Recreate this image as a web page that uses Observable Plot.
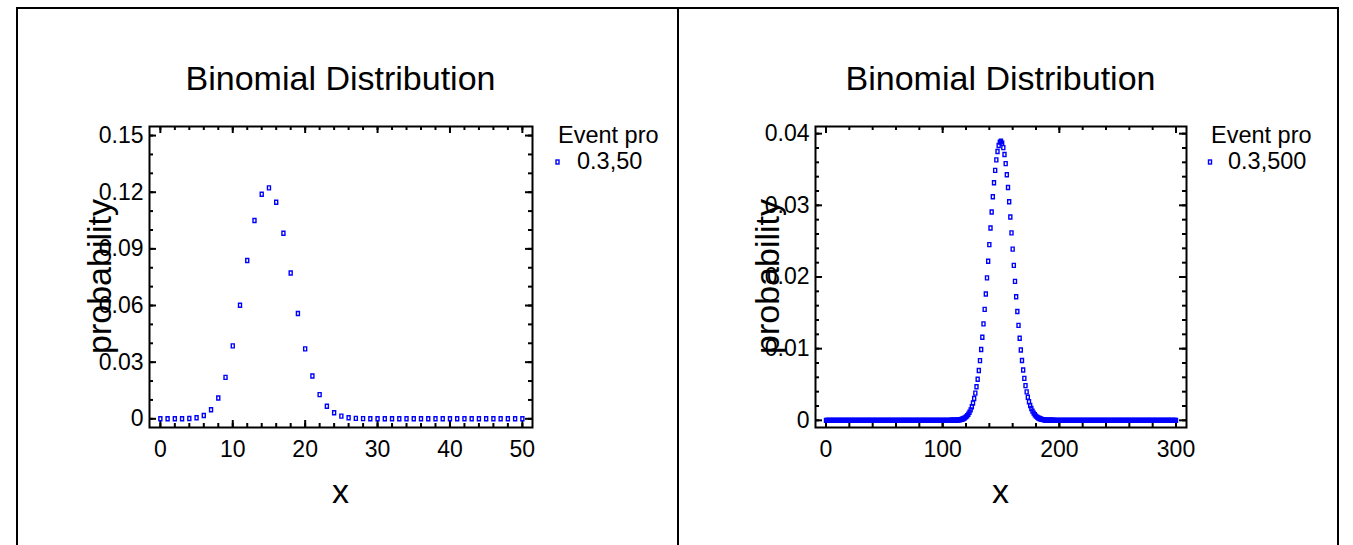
<!DOCTYPE html>
<html>
<head>
<meta charset="utf-8">
<script src="https://cdn.jsdelivr.net/npm/d3@7"></script>
<script src="https://cdn.jsdelivr.net/npm/@observablehq/plot@0.6"></script>
<style>
  html, body { margin: 0; padding: 0; background: #fff; }
  body { width: 1353px; height: 545px; overflow: hidden; position: relative; }
  .panel { position: absolute; top: 8px; }
  #overlay { position: absolute; left: 0; top: 0; pointer-events: none; }
</style>
</head>
<body>
<div id="left" class="panel" style="left:17px"></div>
<div id="right" class="panel" style="left:678px"></div>
<svg id="overlay" width="1353" height="545"></svg>
<script>
// ---------- data ----------
const leftX = d3.range(0, 51);              // x = 0..50
const leftProb = [
  0.00000002, 0.0000004, 0.000004, 0.0000277, 0.0001397, 0.000551, 0.00177, 0.00477, 0.01099, 0.02197,
  0.03861, 0.06017, 0.08381, 0.10499, 0.11892, 0.12232, 0.11467, 0.09829, 0.07723, 0.05574,
  0.03703, 0.02267, 0.01281, 0.00668, 0.00322, 0.00144, 0.00059, 0.000225, 0.000079, 0.000026,
  0.0000077, 0.0000019, 0.0000004, 0, 0, 0, 0, 0, 0, 0,
  0, 0, 0, 0, 0, 0, 0, 0, 0, 0,
  0
];
const rightX = d3.range(0, 301);            // x = 0..300
const rightProb = [
  0,0,0,0,0,0,0,0,0,0, 0,0,0,0,0,0,0,0,0,0, 0,0,0,0,0,0,0,0,0,0, 0,0,0,0,0,0,0,0,0,0,
  0,0,0,0,0,0,0,0,0,0, 0,0,0,0,0,0,0,0,0,0, 0,0,0,0,0,0,0,0,0,0, 0,0,0,0,0,0,0,0,0,0,
  0,0,0,0,0,0,0,0,0,0, 0,0,0,0,0,0,0,0,0,0, 0,0,0,0,0,0,0,
  0.0000036, 0.0000056, 0.0000087,                                        // 107-109
  0.0000133, 0.0000200, 0.0000298, 0.0000438, 0.0000637, 0.0000917, 0.000130, 0.000183, 0.000255, 0.000350, // 110-119
  0.000477, 0.000642, 0.000854, 0.001125, 0.001466, 0.001890, 0.002410, 0.003042, 0.003799, 0.004695,       // 120-129
  0.005742, 0.006950, 0.008327, 0.009874, 0.011590, 0.013466, 0.015489, 0.017637, 0.019883, 0.022192,       // 130-139
  0.024524, 0.026835, 0.029076, 0.031196, 0.033146, 0.034877, 0.036344, 0.037510, 0.038343, 0.038821,       // 140-149
  0.038932, 0.038674, 0.038056, 0.037097, 0.035824, 0.034272, 0.032483, 0.030503, 0.028379, 0.026161,       // 150-159
  0.023895, 0.021626, 0.019395, 0.017236, 0.015179, 0.013247, 0.011457, 0.009820, 0.008342, 0.007023,       // 160-169
  0.005860, 0.004847, 0.003973, 0.003228, 0.002600, 0.002076, 0.001643, 0.001289, 0.001002, 0.000773,       // 170-179
  0.000591, 0.000448, 0.000336, 0.000250, 0.000185, 0.000135, 0.0000982, 0.0000707, 0.0000504, 0.0000357,  // 180-189
  0.0000250, 0.0000174, 0.0000120, 0.0000083, 0.0000056, 0.0000038,                                         // 190-195
  0,0,0,0,0,0,0,0,0,0, 0,0,0,0,0,0,0,0,0,0, 0,0,0,0,0,0,0,0,0,0, 0,0,0,0,0,0,0,0,0,0,
  0,0,0,0,0,0,0,0,0,0, 0,0,0,0,0,0,0,0,0,0, 0,0,0,0,0,0,0,0,0,0, 0,0,0,0,0,0,0,0,0,0,
  0,0,0,0,0,0,0,0,0,0, 0,0,0,0,0,0,0,0,0,0, 0,0,0,0,0
];
const leftXTicks = [0, 10, 20, 30, 40, 50];
const leftYTicks = [0, 0.03, 0.06, 0.09, 0.12, 0.15];
const rightXTicks = [0, 100, 200, 300];
const rightYTicks = [0, 0.01, 0.02, 0.03, 0.04];
const leftXMinor = d3.range(0, 51, 2);
const leftYMinor = d3.range(0, 16).map(i => i / 100);
const rightXMinor = d3.range(0, 301, 20);
const rightYMinor = d3.range(0, 21).map(i => i / 500);
const chartTitle = "Binomial Distribution";
const xLabel = "x";
const yLabel = "probability";
const legendTitle = "Event pro";
const legendLabels = ["0.3,50", "0.3,500"];

// ---------- styling ----------
const FONT = "'Liberation Sans', Arial, Helvetica, sans-serif";
const BLUE = "#0000ff";
const MAJ = 7, MIN = 4;
const rectSymbol = {
  draw(ctx) {
    ctx.moveTo(-1.5, -2); ctx.lineTo(1.5, -2); ctx.lineTo(1.5, 2); ctx.lineTo(-1.5, 2); ctx.closePath();
  }
};

function panel(o) {
  const data = o.xs.map((x, i) => ({x, p: o.ys[i]}));
  const fw = o.width - o.ml - o.mr, fh = o.height - o.mt - o.mb;
  const tick = {stroke: "#000", strokeWidth: 2};
  return Plot.plot({
    width: o.width, height: o.height,
    marginLeft: o.ml, marginRight: o.mr, marginTop: o.mt, marginBottom: o.mb,
    x: {domain: o.xDomain},
    y: {domain: o.yDomain},
    style: {fontFamily: FONT, fontSize: "23px", background: "transparent", color: "#000", overflow: "visible"},
    marks: [
      Plot.ruleX(o.xMinor, {...tick, insetTop: fh - MIN}),
      Plot.ruleX(o.xMinor, {...tick, insetBottom: fh - MIN}),
      Plot.ruleX(o.xMajor, {...tick, insetTop: fh - MAJ}),
      Plot.ruleX(o.xMajor, {...tick, insetBottom: fh - MAJ}),
      Plot.ruleY(o.yMinor, {...tick, insetRight: fw - MIN}),
      Plot.ruleY(o.yMinor, {...tick, insetLeft: fw - MIN}),
      Plot.ruleY(o.yMajor, {...tick, insetRight: fw - MAJ}),
      Plot.ruleY(o.yMajor, {...tick, insetLeft: fw - MAJ}),
      Plot.axisX(o.xMajor, {tickSize: 0, tickPadding: 13, fontSize: 23, label: null, tickFormat: d => String(d)}),
      Plot.axisY(o.yMajor, {tickSize: 0, tickPadding: 6, fontSize: 23, label: null, tickFormat: d => String(d)}),
      Plot.dot(data, {x: "x", y: "p", symbol: rectSymbol, stroke: BLUE, strokeWidth: 1.4, fill: "none"}),
      Plot.frame({stroke: "#000", strokeWidth: 2})
    ]
  });
}

document.getElementById("left").append(panel({
  width: 661, height: 537, ml: 132, mr: 146, mt: 118, mb: 118,
  xDomain: [-1.5, 51.4], yDomain: [-0.0046, 0.1548],
  xs: leftX, ys: leftProb, xMajor: leftXTicks, xMinor: leftXMinor, yMajor: leftYTicks, yMinor: leftYMinor
}));
document.getElementById("right").append(panel({
  width: 660, height: 537, ml: 137, mr: 152, mt: 118, mb: 118,
  xDomain: [-9, 309], yDomain: [-0.001, 0.041],
  xs: rightX, ys: rightProb, xMajor: rightXTicks, xMinor: rightXMinor, yMajor: rightYTicks, yMinor: rightYMinor
}));

// ---------- overlay: borders, titles, labels, legends ----------
const ov = d3.select("#overlay").attr("font-family", FONT);
ov.append("path")
  .attr("d", "M17,560 V8 H1338 V560 M678,8 V560")
  .attr("fill", "none").attr("stroke", "#000").attr("stroke-width", 2);

const panels = [
  {cx: 340.5, yl: 111, legX: 558, legTxt: 577, legMark: 557.5, label: legendLabels[0]},
  {cx: 1000.5, yl: 779, legX: 1211, legTxt: 1228, legMark: 1210, label: legendLabels[1]}
];
for (const p of panels) {
  ov.append("text").attr("x", p.cx).attr("y", 90).attr("text-anchor", "middle")
    .attr("font-size", 34).text(chartTitle);
  ov.append("text").attr("x", p.cx).attr("y", 503).attr("text-anchor", "middle")
    .attr("font-size", 34).text(xLabel);
  ov.append("text").attr("transform", `translate(${p.yl},276.5) rotate(-90)`)
    .attr("text-anchor", "middle").attr("font-size", 34).text(yLabel);
  ov.append("text").attr("x", p.legX).attr("y", 143).attr("font-size", 23.5).text(legendTitle);
  ov.append("text").attr("x", p.legTxt).attr("y", 169).attr("font-size", 23.5).text(p.label);
  ov.append("rect").attr("x", p.legMark - 1.5).attr("y", 160).attr("width", 3).attr("height", 4)
    .attr("fill", "none").attr("stroke", BLUE).attr("stroke-width", 1.4);
}
</script>
</body>
</html>
